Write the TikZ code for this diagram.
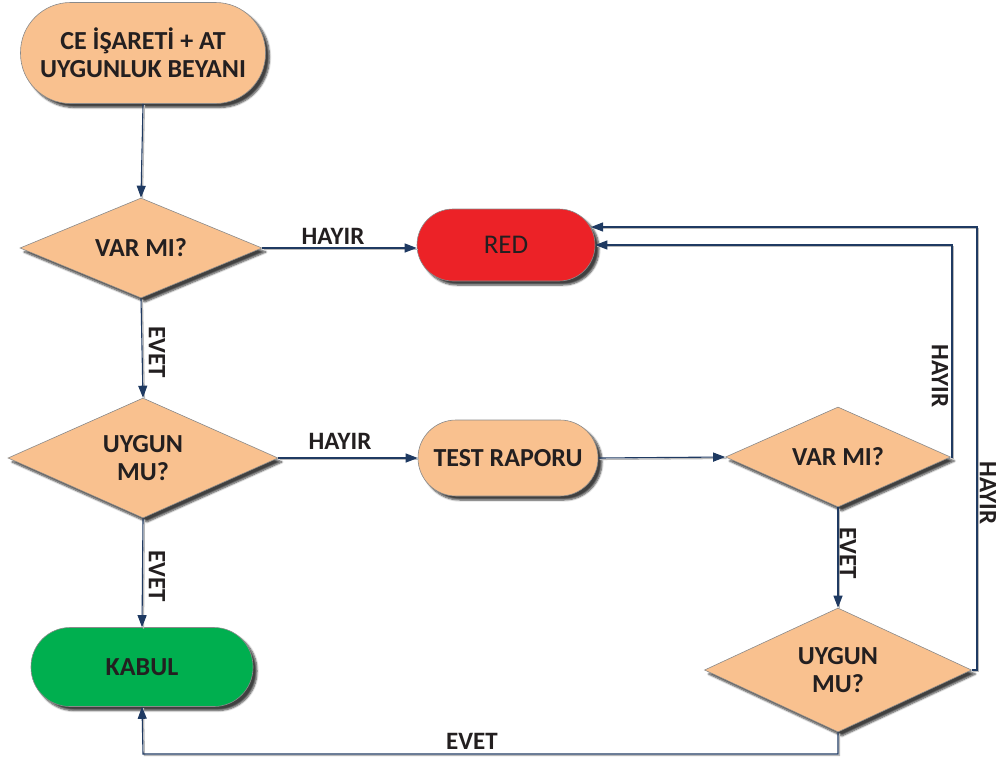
\documentclass[tikz,border=0pt]{standalone}
\usepackage{fontspec}
\setmainfont{Carlito}
\usetikzlibrary{shapes.geometric,arrows.meta,shadows.blur}
\definecolor{orng}{HTML}{F9C18F}
\definecolor{redf}{HTML}{EC2227}
\definecolor{grnf}{HTML}{00AF4F}
\definecolor{navy}{HTML}{1F3A62}
\definecolor{txt}{HTML}{231F20}
\definecolor{edge}{HTML}{8A8A8A}
\tikzset{
  shd/.style={blur shadow={shadow xshift=4pt,shadow yshift=-4pt,shadow blur steps=6,shadow opacity=75}},
  term/.style={shd,draw=edge,line width=0.6pt,rectangle,rounded corners=#1,inner sep=0pt,align=center,text=txt,font=\fontsize{26}{31}\selectfont\bfseries},
  dec/.style={shd,draw=edge,line width=0.6pt,diamond,fill=orng,inner sep=0pt,aspect=2,align=center,text=txt,font=\fontsize{26}{31}\selectfont\bfseries},
  conn/.style={draw=navy,line width=1.1pt,-{Triangle[length=12pt,width=9pt]},
    preaction={draw=gray!55,line width=1.3pt,-,transform canvas={shift={(1.4pt,-1.4pt)}}}},
  lbl/.style={text=txt,font=\fontsize{25}{30}\selectfont\bfseries,inner sep=0pt},
}
\begin{document}
\begin{tikzpicture}[x=1pt,y=-1pt]
\useasboundingbox (0,0) rectangle (1003,761);
\node[term=50pt,fill=orng,minimum width=245pt,minimum height=101pt] (top) at (143,53) {CE İŞARETİ + AT\\[-3pt]UYGUNLUK BEYANI};
\node[dec,minimum width=242pt,minimum height=100pt] (d1) at (141,248) {VAR MI?};
\node[term=36pt,fill=redf,minimum width=178pt,minimum height=72pt,font=\fontsize{27}{31}\selectfont] (red) at (506,245) {RED};
\node[dec,minimum width=270pt,minimum height=120pt] (d2) at (143,458) {UYGUN\\[-3pt]MU?};
\node[term=38pt,fill=orng,minimum width=180pt,minimum height=76pt] (test) at (508,458) {TEST RAPORU};
\node[dec,minimum width=225pt,minimum height=100pt] (d3) at (838,457) {VAR MI?};
\node[dec,minimum width=267pt,minimum height=124pt] (d4) at (838,670) {UYGUN\\[-3pt]MU?};
\node[term=39pt,fill=grnf,minimum width=222pt,minimum height=79pt] (kabul) at (142,667) {KABUL};
\coordinate (r1) at (952,457);
\coordinate (r2) at (952,245);
\coordinate (o1) at (977,670);
\coordinate (o2) at (977,227);
\coordinate (redin) at (591,227);
\coordinate (b1) at (838,754);
\coordinate (b2) at (143,754);
\draw[conn] (top.south) -- (d1.north);
\draw[conn] (d1.east) -- (d1.east -| red.west);
\draw[conn] (d1.south) -- (d2.north);
\draw[conn] (d2.east) -- (test.west);
\draw[conn] (d2.south) -- (kabul.north);
\draw[conn] (test.east) -- (d3.west);
\draw[conn] (d3.east) -- (r1) -- (r2) -- (red.east);
\draw[conn] (d3.south) -- (d4.north);
\draw[conn] (d4.east) -- (o1) -- (o2) -- (redin);
\draw[conn] (d4.south) -- (b1) -- (b2) -- (kabul.south);
\node[lbl] (l1) at (333,236) {HAYIR};
\node[lbl] (l2) at (340,441) {HAYIR};
\node[lbl,rotate=-90] (l3) at (157,352) {EVET};
\node[lbl,rotate=-90] (l4) at (157,576) {EVET};
\node[lbl,rotate=-90] (l5) at (848,553) {EVET};
\node[lbl,rotate=-90] (l6) at (940,376) {HAYIR};
\node[lbl,rotate=-90] (l7) at (988,493) {HAYIR};
\node[lbl] (l8) at (472,741) {EVET};
\end{tikzpicture}
\end{document}
